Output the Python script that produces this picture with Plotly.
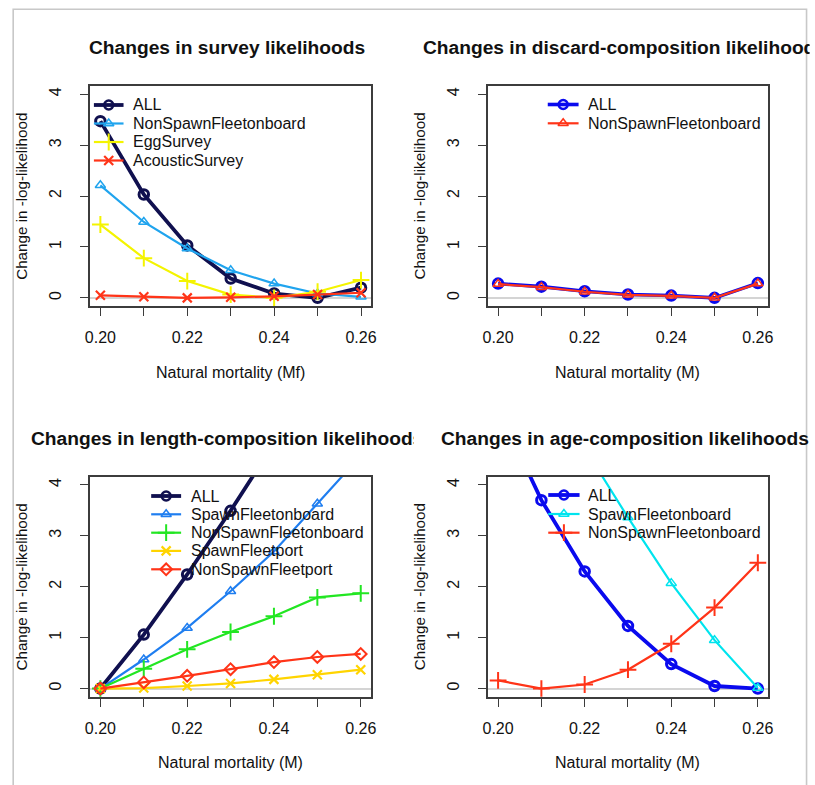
import plotly.graph_objects as go

W, H = 815, 785

# ---------------- data ----------------
M = [0.20, 0.21, 0.22, 0.23, 0.24, 0.25, 0.26]
x_tick_vals = [0.20, 0.21, 0.22, 0.23, 0.24, 0.25, 0.26]
x_tick_text = ["0.20", "", "0.22", "", "0.24", "", "0.26"]
y_tick_vals = [0, 1, 2, 3, 4]
y_tick_text = ["0", "1", "2", "3", "4"]

survey_ALL = [3.47, 2.03, 1.03, 0.38, 0.085, 0.0, 0.20]
survey_NonSpawnFleetonboard = [2.21, 1.49, 0.97, 0.54, 0.28, 0.085, 0.02]
survey_EggSurvey = [1.44, 0.78, 0.33, 0.065, 0.0, 0.12, 0.35]
survey_AcousticSurvey = [0.05, 0.02, 0.0, 0.01, 0.03, 0.065, 0.10]

discard_ALL = [0.28, 0.22, 0.13, 0.065, 0.045, 0.0, 0.29]
discard_NonSpawnFleetonboard = [0.27, 0.21, 0.12, 0.06, 0.04, 0.0, 0.28]

length_ALL = [0.0, 1.06, 2.24, 3.49, 4.81, 6.1, 7.4]
length_SpawnFleetonboard = [0.0, 0.57, 1.19, 1.91, 2.69, 3.63, 4.57]
length_NonSpawnFleetonboard = [0.0, 0.39, 0.77, 1.11, 1.42, 1.79, 1.87]
length_SpawnFleetport = [0.0, 0.01, 0.05, 0.10, 0.18, 0.27, 0.37]
length_NonSpawnFleetport = [0.0, 0.12, 0.25, 0.38, 0.52, 0.62, 0.68]

age_ALL = [5.5, 3.70, 2.30, 1.23, 0.48, 0.05, 0.0]
age_SpawnFleetonboard = [7.6, 6.1, 4.72, 3.36, 2.07, 0.95, 0.01]
age_NonSpawnFleetonboard = [0.16, 0.0, 0.08, 0.37, 0.88, 1.59, 2.47]

titles = ["Changes in survey likelihoods",
          "Changes in discard-composition likelihoods",
          "Changes in length-composition likelihoods",
          "Changes in age-composition likelihoods"]
xlabels = ["Natural mortality (Mf)", "Natural mortality (M)",
           "Natural mortality (M)", "Natural mortality (M)"]
ylabel = "Change in -log-likelihood"

# ---------------- styles ----------------
NAVY = "#10104f"
BLUE = "#0a0aee"
LBLUE = "#20a4ee"
DBLUE = "#1f7ef0"
YELLOW = "#f4f400"
GOLD = "#ffd400"
GREEN = "#22e622"
RED = "#ff3418"
CYAN = "#00e4ee"

SYM = {
    "circle": dict(symbol="circle-open", size=9, lw=2.4),
    "triangle": dict(symbol="triangle-up-open", size=9, lw=1.5),
    "plus": dict(symbol="cross-thin-open", size=12, lw=2.0),
    "x": dict(symbol="x-thin-open", size=9, lw=2.2),
    "diamond": dict(symbol="diamond-open", size=9, lw=2.0),
}

panels = [
    dict(series=[("ALL", survey_ALL, NAVY, "circle", 3.8),
                 ("NonSpawnFleetonboard", survey_NonSpawnFleetonboard, LBLUE, "triangle", 2.2),
                 ("EggSurvey", survey_EggSurvey, YELLOW, "plus", 2.2),
                 ("AcousticSurvey", survey_AcousticSurvey, RED, "x", 2.2)],
         box=(86, 371, 86, 306), title_x=(90, None), title_y=48,
         leg=dict(x0=90, x1=120, tx=133, rows=[105, 123.5, 142, 160.5]),
         ylab_x=20),
    dict(series=[("ALL", discard_ALL, BLUE, "circle", 3.6),
                 ("NonSpawnFleetonboard", discard_NonSpawnFleetonboard, RED, "triangle", 2.2)],
         box=(488.7, 772.7, 86, 306), title_x=(428.3, 810), title_y=48,
         leg=dict(x0=549.5, x1=580.7, tx=593.3, rows=[104.5, 123.3]),
         ylab_x=422.7),
    dict(series=[("ALL", length_ALL, NAVY, "circle", 3.8),
                 ("SpawnFleetonboard", length_SpawnFleetonboard, DBLUE, "triangle", 2.2),
                 ("NonSpawnFleetonboard", length_NonSpawnFleetonboard, GREEN, "plus", 2.2),
                 ("SpawnFleetport", length_SpawnFleetport, GOLD, "x", 2.2),
                 ("NonSpawnFleetport", length_NonSpawnFleetport, RED, "diamond", 2.2)],
         box=(86, 370.7, 476.7, 696.7), title_x=(31.7, 409.5), title_y=438.7,
         leg=dict(x0=148, x1=178.3, tx=191, rows=[496, 514.3, 532.7, 550.9, 569.3]),
         ylab_x=20),
    dict(series=[("ALL", age_ALL, BLUE, "circle", 3.8),
                 ("SpawnFleetonboard", age_SpawnFleetonboard, CYAN, "triangle", 2.2),
                 ("NonSpawnFleetonboard", age_NonSpawnFleetonboard, RED, "plus", 2.2)],
         box=(488.7, 772.7, 476.7, 696.7), title_x=(446, 810), title_y=438.7,
         leg=dict(x0=550, x1=581.7, tx=593.3, rows=[495, 514, 532.7]),
         ylab_x=422.7),
]

FONT = "Liberation Sans, Arial, sans-serif"
AXC = "#3c3c3c"
TXT_SHIFT = 5  # annotation text renders this many px right of its anchor

fig = go.Figure()
annotations = []

def px(x):
    return x / W

def py(y):
    return 1 - y / H

for i, p in enumerate(panels):
    n = "" if i == 0 else str(i + 1)
    xa, ya = "x" + n, "y" + n
    l, r, t, b = p["box"]
    for name, vals, col, sym, lw in p["series"]:
        s = SYM[sym]
        thick = lw > 3
        fig.add_trace(go.Scatter(
            x=M, y=vals, mode="lines+markers", name=name, showlegend=False,
            line=dict(color=col, width=lw),
            marker=dict(symbol=s["symbol"], size=s["size"] + (0.5 if thick else 0),
                        color=col, line=dict(color=col, width=s["lw"] + (0.6 if thick else 0))),
            xaxis=xa, yaxis=ya))
    axcommon = dict(showline=True, mirror=True, linecolor=AXC, linewidth=1.6,
                    ticks="outside", ticklen=8, tickwidth=1.4, tickcolor=AXC,
                    showgrid=False, tickfont=dict(family=FONT, size=16, color="#111"),
                    fixedrange=True)
    fig.layout["xaxis" + n] = dict(axcommon, domain=[px(l), px(r)], range=[0.1976, 0.2624],
                                   tickmode="array", tickvals=x_tick_vals, ticktext=x_tick_text,
                                   zeroline=False, anchor=ya, ticklabelstandoff=8)
    fig.layout["yaxis" + n] = dict(axcommon, domain=[py(b), py(t)], range=[-0.16, 4.16],
                                   tickmode="array", tickvals=y_tick_vals, ticktext=y_tick_text,
                                   tickangle=-90, zeroline=True, zerolinecolor="#d4d4d4",
                                   zerolinewidth=2, anchor=xa, ticklabelstandoff=13)
    # title (clipped like the source)
    tx0, clip = p["title_x"]
    tann = dict(text="<b>" + titles[i] + "</b>", xref="paper", yref="paper",
                x=px(tx0 - TXT_SHIFT), y=py(p["title_y"]), xanchor="left", yanchor="middle",
                showarrow=False, align="left", borderpad=0, borderwidth=0,
                font=dict(family=FONT, size=19.2, color="#111"))
    if clip is not None:
        tann["width"] = clip - (tx0 - TXT_SHIFT)
    annotations.append(tann)
    # axis titles
    annotations.append(dict(text=xlabels[i], xref="paper", yref="paper",
                            x=px((l + r) / 2), y=py(b + 66), xanchor="center", yanchor="middle",
                            showarrow=False, font=dict(family=FONT, size=16, color="#111")))
    annotations.append(dict(text=ylabel, xref="paper", yref="paper", textangle=-90,
                            x=px(p["ylab_x"] - 3), y=py((t + b) / 2), xanchor="center", yanchor="middle",
                            showarrow=False, font=dict(family=FONT, size=15.2, color="#111")))
    # legend (manual, no box)
    lg = p["leg"]
    for (name, vals, col, sym, lw), ry in zip(p["series"], lg["rows"]):
        s = SYM[sym]
        fig.add_trace(go.Scatter(x=[lg["x0"], lg["x1"]], y=[ry, ry], mode="lines",
                                 line=dict(color=col, width=lw), showlegend=False,
                                 xaxis="x5", yaxis="y5", hoverinfo="skip"))
        fig.add_trace(go.Scatter(x=[(lg["x0"] + lg["x1"]) / 2], y=[ry], mode="markers",
                                 marker=dict(symbol=s["symbol"], size=s["size"], color=col,
                                             line=dict(color=col, width=s["lw"])),
                                 showlegend=False, xaxis="x5", yaxis="y5", hoverinfo="skip"))
        annotations.append(dict(text=name, xref="paper", yref="paper", x=px(lg["tx"] - TXT_SHIFT),
                                y=py(ry), xanchor="left", yanchor="middle", showarrow=False,
                                font=dict(family=FONT, size=16, color="#111")))

fig.layout["xaxis5"] = dict(domain=[0, 1], range=[0, W], visible=False, fixedrange=True, anchor="y5")
fig.layout["yaxis5"] = dict(domain=[0, 1], range=[H, 0], visible=False, fixedrange=True, anchor="x5")

# outer light-grey frame of the source image
shapes = [dict(type="rect", xref="paper", yref="paper", x0=px(8.3), x1=px(811.5),
               y0=py(H + 20), y1=py(9.3), line=dict(color="#c8c8c8", width=1.6),
               fillcolor="rgba(0,0,0,0)", layer="below")]

fig.update_layout(width=W, height=H, autosize=False,
                  margin=dict(l=0, r=0, t=0, b=0),
                  paper_bgcolor="white", plot_bgcolor="rgba(0,0,0,0)",
                  showlegend=False, annotations=annotations, shapes=shapes)

fig.write_html("out.html")
